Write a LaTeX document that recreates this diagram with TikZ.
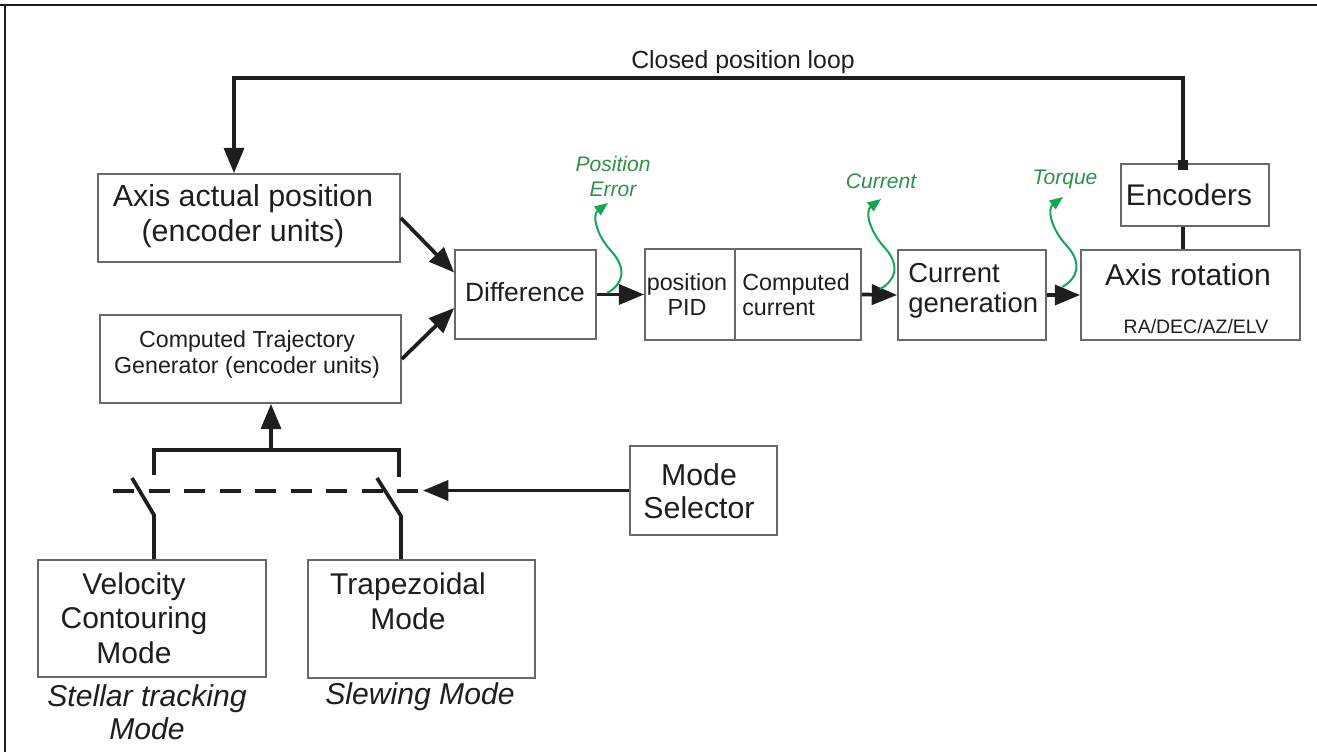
\documentclass[tikz,border=0pt]{standalone}
\usepackage{fontspec}
\setmainfont{Liberation Sans}
\usetikzlibrary{arrows.meta,calc,fit}
\definecolor{ink}{RGB}{30,30,30}
\definecolor{edge}{RGB}{105,105,105}
\definecolor{sig}{RGB}{20,165,85}
\definecolor{sigtext}{RGB}{45,145,75}
\newcommand{\fs}[2]{\fontsize{#1}{#2}\selectfont}

\begin{document}
\begin{tikzpicture}[x=0.75pt,y=-0.75pt,
  box/.style={draw=edge,line width=1.3pt,inner sep=0pt},
  txt/.style={text=ink,inner sep=0pt,align=center},
  conn/.style={draw=ink,line width=2.8pt},
  arr/.style={conn,-{Triangle[length=19pt,width=15pt]}},
  sigline/.style={draw=sig,line width=1.5pt,-{Triangle[length=10pt,width=8pt]}},
  wiggle/.pic={\draw[sigline] (0,0) .. controls (15,-8) and (21,-23) .. (5,-41)
                 .. controls (-11,-58) and (-15,-78) .. (1,-90);}
]
\useasboundingbox (0,0) rectangle (1317,752);

% page frame (top and left rules)
\draw[draw=ink,line width=1.2pt] (0,5) -- (1317,5);
\draw[draw=ink,line width=1.2pt] (5,5) -- (5,752);

% blocks
\node[box,fit={(98,174)(400,262)}]   (apos)  {};
\node[box,fit={(100,315)(401,403)}]  (traj)  {};
\node[box,fit={(455,250)(596,339)}]  (diff)  {};
\node[box,fit={(645,249)(735,340)}]  (pid)   {};
\node[box,fit={(735,249)(861,340)}]  (ccur)  {};
\node[box,fit={(898,250)(1046,340)}] (cgen)  {};
\node[box,fit={(1081,250)(1300,340)}] (axrot) {};
\node[box,fit={(1121,164)(1269,226)}] (enc)  {};
\node[box,fit={(630,446)(777,535)}]  (msel)  {};
\node[box,fit={(38,560)(266,677)}]   (vel)   {};
\node[box,fit={(308,560)(535,678)}]  (trap)  {};

% block texts
\node[txt,font=\fs{22.8}{26.25}] (aposT) at (243,216) {Axis actual position\\(encoder units)};
\node[txt,font=\fs{17.4}{19.5}] (trajT) at (247,354) {Computed Trajectory\\Generator (encoder units)};
\node[txt,font=\fs{19.8}{24}] (diffT) at (525,292) {Difference};
\node[txt,font=\fs{17.5}{18.75}] (pidT) at (687,295) {position\\PID};
\node[txt,font=\fs{17.5}{18.75},align=left,anchor=west] (ccurT) at (742,295) {Computed\\current};
\node[txt,font=\fs{20.6}{22.5},align=left,anchor=west] (cgenT) at (908,291) {Current\\generation};
\node[txt,font=\fs{22.6}{24}] (axrotT) at (1188,275) {Axis rotation};
\node[txt,font=\fs{14.6}{16}] (raT) at (1196,327) {RA/DEC/AZ/ELV};
\node[txt,font=\fs{22.4}{24}] (encT) at (1189,195) {Encoders};
\node[txt,font=\fs{18.6}{20}] (loopT) at (743,62) {Closed position loop};
\node[txt,font=\fs{22.7}{24.75}] (mselT) at (699,491) {Mode\\Selector};
\node[txt,font=\fs{22.5}{26}] (velT) at (134,618) {Velocity\\Contouring\\Mode};
\node[txt,font=\fs{22.5}{26}] (trapT) at (408,601.5) {Trapezoidal\\Mode};
\node[txt,font=\itshape\fs{22.6}{24.75}] (stelT) at (147,712) {Stellar tracking\\Mode};
\node[txt,font=\itshape\fs{22.6}{24}] (slewT) at (420,697) {Slewing Mode};

% closed position loop
\node[fill=ink,minimum size=7pt,inner sep=0pt] (encdot) at (1183,165) {};
\coordinate (loopTL) at (234,78);
\draw[arr] (encdot.center) |- (loopTL) -- (loopTL |- apos.north);
\draw[conn] (enc.south -| encdot) -- (axrot.north -| encdot);

% forward path
\draw[arr] (apos.east) -- ($(diff.west)+(0,-22)$);
\draw[arr] (traj.east) -- ($(diff.west)+(0,13.5)$);
\draw[arr] (diff.east) -- (pid.west);
\draw[arr] (ccur.east) -- (cgen.west);
\draw[arr] (cgen.east) -- (axrot.west);

% signal annotations
\coordinate (pe)  at (607,293);
\coordinate (cur) at (880,289);
\coordinate (tor) at (1062,287);
\pic at (pe)  {wiggle};
\pic at (cur) {wiggle};
\pic at (tor) {wiggle};
\node[txt,text=sigtext,font=\itshape\fs{15.8}{18.75}] (peT) at (613,176) {Position\\Error};
\node[txt,text=sigtext,font=\itshape\fs{15.8}{18.75}] (curT) at (881,181) {Current};
\node[txt,text=sigtext,font=\itshape\fs{15.8}{18.75}] (torT) at (1065,179) {Torque};

% mode switches
\coordinate (bus)    at (271,450);
\coordinate (s1top)  at (154,475);
\coordinate (s2top)  at (399,477);
\coordinate (s1piv)  at (154,515);
\coordinate (s1tip)  at (132,478);
\coordinate (s2piv)  at (401,516);
\coordinate (s2tip)  at (377,478);
\coordinate (dashL)  at (113,491);
\coordinate (dashR)  at (423,491);
\draw[conn] (s1top) |- (bus) -| (s2top);
\draw[arr] (bus) -- (bus |- traj.south);
\draw[conn] (vel.north -| s1piv) -- (s1piv) -- (s1tip);
\draw[conn] (trap.north -| s2piv) -- (s2piv) -- (s2tip);
\draw[conn,dash pattern=on 15.75pt off 10.9pt] (dashL) -- (dashR);
\draw[arr] (msel.west) -- (msel.west -| dashR);
\end{tikzpicture}
\end{document}
